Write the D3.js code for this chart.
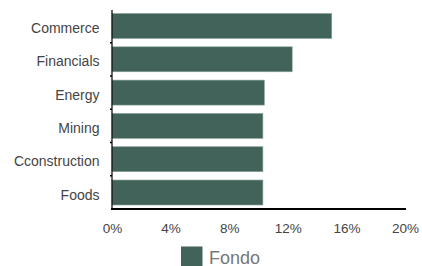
<!DOCTYPE html>
<html>
<head>
<meta charset="utf-8">
<script src="https://cdn.jsdelivr.net/npm/d3@7"></script>
<style>
  body { margin: 0; background: #fff; }
  svg { display: block; font-family: "Liberation Sans", Arial, sans-serif; }
</style>
</head>
<body>
<figure id="bar" style="margin:0"></figure>
<script>
const categories = ["Commerce", "Financials", "Energy", "Mining", "Cconstruction", "Foods"];
const fondo = [15.0, 12.3, 10.4, 10.3, 10.3, 10.3];
const xTicks = [0, 4, 8, 12, 16, 20];
const seriesName = "Fondo";

const width = 422, height = 266;
const plotLeft = 112, plotRight = 405, plotTop = 9.5, plotBottom = 209;

const svg = d3.select("figure#bar")
  .append("svg")
  .attr("width", width)
  .attr("height", height);

const x = d3.scaleLinear().domain([0, 20]).range([plotLeft, plotRight]);
const y = d3.scaleBand().domain(categories).range([plotTop, plotBottom]).paddingInner(0.25).paddingOuter(0.12);

// bars
svg.selectAll("rect.bar")
  .data(categories)
  .enter()
  .append("rect")
  .attr("class", "bar")
  .attr("x", x(0))
  .attr("y", d => y(d))
  .attr("width", (d, i) => x(fondo[i]) - x(0))
  .attr("height", y.bandwidth())
  .attr("fill", "#41635a")
  .attr("stroke", "#8aa29b")
  .attr("stroke-width", 0.6);

// left axis
const yAxis = svg.append("g")
  .attr("transform", "translate(" + (plotLeft - 0.5) + ",0)")
  .call(d3.axisLeft(y).tickSize(0).tickPadding(12));
yAxis.select(".domain").attr("stroke", "#000").attr("stroke-width", 1.2);
yAxis.selectAll("text").attr("font-size", 14).attr("fill", "#444").attr("dy", "0.5em");

// small ticks between bands
svg.selectAll("line.sep")
  .data(categories.slice(1))
  .enter()
  .append("line")
  .attr("x1", plotLeft - 2).attr("x2", plotLeft)
  .attr("y1", d => y(d) - y.step() * y.paddingInner() / 2)
  .attr("y2", d => y(d) - y.step() * y.paddingInner() / 2)
  .attr("stroke", "#000").attr("stroke-width", 1.5);

// bottom axis
const xAxis = svg.append("g")
  .attr("transform", "translate(0," + plotBottom + ")")
  .call(d3.axisBottom(x).tickValues(xTicks).tickFormat(d => d + "%").tickSize(0).tickPadding(14));
xAxis.select(".domain").attr("stroke", "#000").attr("stroke-width", 2)
  .attr("d", "M" + (plotLeft - 1) + ",0H" + (plotRight + 1));
xAxis.selectAll("text").attr("font-size", 13.5).attr("fill", "#444");

// legend
svg.append("rect")
  .attr("x", 181).attr("y", 246.5)
  .attr("width", 21.5).attr("height", 22)
  .attr("fill", "#41635a");
svg.append("text")
  .attr("x", 209).attr("y", 263.5)
  .attr("font-size", 18)
  .attr("fill", "#777")
  .text(seriesName);
</script>
</body>
</html>
